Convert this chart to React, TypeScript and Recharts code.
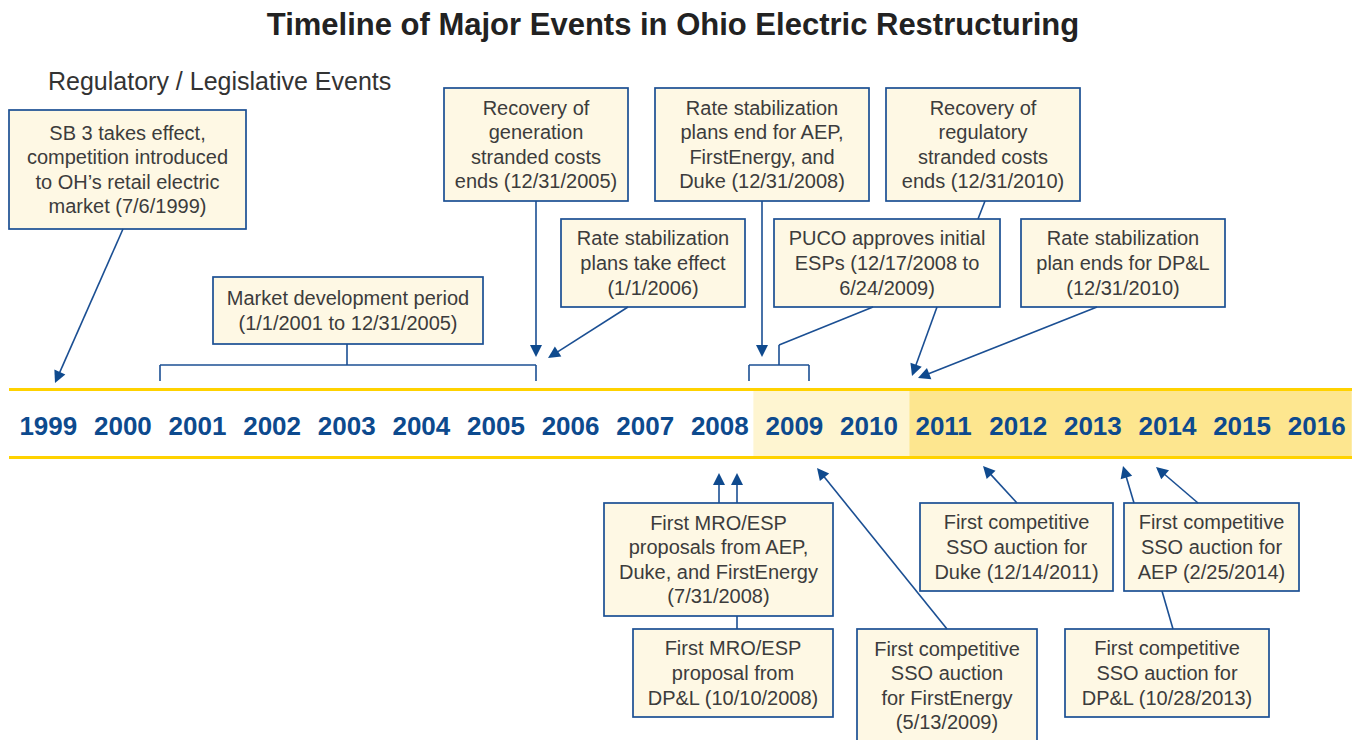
import React from 'react';
import {
  ComposedChart,
  XAxis,
  YAxis,
  Scatter,
  ReferenceArea,
  ReferenceLine,
  ReferenceDot,
} from 'recharts';

// ---------- data ----------
const TITLE = 'Timeline of Major Events in Ohio Electric Restructuring';
const SUBTITLE = 'Regulatory / Legislative Events';

const years = [
  1999, 2000, 2001, 2002, 2003, 2004, 2005, 2006, 2007, 2008, 2009, 2010, 2011,
  2012, 2013, 2014, 2015, 2016,
];

// shaded periods on the timeline (start, end in years)
const lightPeriod = [2008.45, 2010.54];
const darkPeriod = [2010.54, 2016.47];

const eventTexts: string[][] = [
  ['SB 3 takes effect,', 'competition introduced', 'to OH’s retail electric', 'market (7/6/1999)'],
  ['Market development period', '(1/1/2001 to 12/31/2005)'],
  ['Recovery of', 'generation', 'stranded costs', 'ends (12/31/2005)'],
  ['Rate stabilization', 'plans take effect', '(1/1/2006)'],
  ['Rate stabilization', 'plans end for AEP,', 'FirstEnergy, and', 'Duke (12/31/2008)'],
  ['Recovery of', 'regulatory', 'stranded costs', 'ends (12/31/2010)'],
  ['PUCO approves initial', 'ESPs (12/17/2008 to', '6/24/2009)'],
  ['Rate stabilization', 'plan ends for DP&L', '(12/31/2010)'],
  ['First MRO/ESP', 'proposals from AEP,', 'Duke, and FirstEnergy', '(7/31/2008)'],
  ['First MRO/ESP', 'proposal from', 'DP&L (10/10/2008)'],
  ['First competitive', 'SSO auction', 'for FirstEnergy', '(5/13/2009)'],
  ['First competitive', 'SSO auction for', 'Duke (12/14/2011)'],
  ['First competitive', 'SSO auction for', 'AEP (2/25/2014)'],
  ['First competitive', 'SSO auction for', 'DP&L (10/28/2013)'],
];

// ---------- layout (page units) ----------
const boxLayout = [
  { x: 9, y: 110, w: 237, h: 119 },
  { x: 213, y: 277, w: 270, h: 67 },
  { x: 444, y: 88, w: 184, h: 113 },
  { x: 561, y: 219, w: 184, h: 88 },
  { x: 655, y: 88, w: 214, h: 113 },
  { x: 886, y: 88, w: 194, h: 113 },
  { x: 774, y: 219, w: 226, h: 88 },
  { x: 1021, y: 219, w: 204, h: 88 },
  { x: 604, y: 503, w: 229, h: 113 },
  { x: 633, y: 629, w: 200, h: 88 },
  { x: 857, y: 629, w: 180, h: 113 },
  { x: 920, y: 503, w: 193, h: 88 },
  { x: 1124, y: 503, w: 175, h: 88 },
  { x: 1065, y: 629, w: 204, h: 88 },
];

// connectors: [x1, y1, x2, y2, arrowhead]
const connectors: [number, number, number, number, boolean][] = [
  [123, 229, 55, 383, true],
  [536, 201, 536, 357, true],
  [628, 307, 548, 358, true],
  [762, 201, 762, 357, true],
  [937, 307, 912, 376, true],
  [1097, 307, 918, 378, true],
  [719, 503, 719, 473, true],
  [737, 503, 737, 473, true],
  [947, 629, 817, 468, true],
  [1017, 503, 983, 466, true],
  [1198, 503, 1156, 467, true],
  [1134, 503, 1123, 466, true],
  // plain lines
  [347, 344, 347, 365, false],
  [160, 365, 536, 365, false],
  [160, 365, 160, 381, false],
  [536, 365, 536, 381, false],
  [873, 307, 779, 345, false],
  [779, 345, 779, 365, false],
  [749, 365, 809, 365, false],
  [749, 365, 749, 381, false],
  [809, 365, 809, 381, false],
  [985, 201, 978, 219, false],
  [737, 616, 737, 629, false],
  [1173, 629, 1162, 591, false],
];

const yearRow = years.map((year) => ({ year, y: 425 }));
// corners of the page-unit layout frame
const frameCorners = [
  { px: 11, y: 0 },
  { px: 1354, y: 740 },
];

// ---------- styles ----------
const FONT = '"Liberation Sans", Arial, Helvetica, sans-serif';
const BLUE = '#1b4f93';
const GOLD = '#ffd200';

const boxShape = (lines: string[]) => (p: any) => {
  const cx = p.x + p.width / 2;
  const first = p.y + (p.height - (lines.length - 1) * 24.6) / 2 + 7;
  return (
    <g>
      <rect
        x={p.x}
        y={p.y}
        width={p.width}
        height={p.height}
        fill="#fef8e4"
        stroke={BLUE}
        strokeWidth={1.7}
      />
      {lines.map((t, i) => (
        <text
          key={i}
          x={cx}
          y={first + i * 24.6}
          textAnchor="middle"
          fontSize={20}
          fill="#3c3c3c"
          fontFamily={FONT}
        >
          {t}
        </text>
      ))}
    </g>
  );
};

const arrowShape = (head: boolean) => (p: any) => {
  const { x1, y1, x2, y2 } = p;
  const dx = x2 - x1;
  const dy = y2 - y1;
  const len = Math.hypot(dx, dy) || 1;
  const ux = dx / len;
  const uy = dy / len;
  const hl = 12;
  const hw = 6;
  const bx = x2 - ux * hl;
  const by = y2 - uy * hl;
  return (
    <g>
      <line
        x1={x1}
        y1={y1}
        x2={head ? bx + ux * 2 : x2}
        y2={head ? by + uy * 2 : y2}
        stroke={BLUE}
        strokeWidth={1.6}
      />
      {head && (
        <polygon
          points={`${x2},${y2} ${bx - uy * hw},${by + ux * hw} ${bx + uy * hw},${by - ux * hw}`}
          fill="#0f4a8e"
        />
      )}
    </g>
  );
};

const yearShape = (p: any) => (
  <text
    x={p.cx}
    y={p.cy + 9.5}
    textAnchor="middle"
    fontSize={26}
    fontWeight="bold"
    fill="#0d4a8e"
    fontFamily={FONT}
  >
    {p.payload.year}
  </text>
);

const emptyShape = () => <g />;

export default function App() {
  return (
    <div style={{ position: 'absolute', left: 0, top: 0, width: 1359, height: 740, background: '#fff' }}>
      <ComposedChart width={1359} height={740} margin={{ top: 0, right: 5, bottom: 0, left: 11 }}>
        <XAxis
          xAxisId="yr"
          type="number"
          dataKey="year"
          domain={[1998.5, 2016.5]}
          allowDataOverflow
          hide
        />
        <XAxis
          xAxisId="px"
          type="number"
          dataKey="px"
          domain={[11, 1354]}
          allowDataOverflow
          hide
        />
        <YAxis yAxisId="px" type="number" dataKey="y" domain={[0, 740]} reversed allowDataOverflow hide />

        {/* invisible anchor series so the page-unit axis is active */}
        <Scatter
          xAxisId="px"
          yAxisId="px"
          data={frameCorners}
          shape={emptyShape}
          isAnimationActive={false}
        />

        {/* shaded periods */}
        <ReferenceArea
          xAxisId="yr"
          yAxisId="px"
          x1={lightPeriod[0]}
          x2={lightPeriod[1]}
          y1={390}
          y2={457}
          fill="#fef5d1"
          fillOpacity={1}
          stroke="none"
          ifOverflow="visible"
        />
        <ReferenceArea
          xAxisId="yr"
          yAxisId="px"
          x1={darkPeriod[0]}
          x2={darkPeriod[1]}
          y1={390}
          y2={457}
          fill="#fde68f"
          fillOpacity={1}
          stroke="none"
          ifOverflow="visible"
        />
        {/* timeline rails */}
        <ReferenceLine
          xAxisId="px"
          yAxisId="px"
          segment={[{ x: 9, y: 389.5 }, { x: 1352, y: 389.5 }]}
          stroke={GOLD}
          strokeWidth={3}
          ifOverflow="visible"
        />
        <ReferenceLine
          xAxisId="px"
          yAxisId="px"
          segment={[{ x: 9, y: 457.5 }, { x: 1352, y: 457.5 }]}
          stroke={GOLD}
          strokeWidth={3}
          ifOverflow="visible"
        />

        {/* year labels */}
        <Scatter
          xAxisId="yr"
          yAxisId="px"
          data={yearRow}
          shape={yearShape}
          isAnimationActive={false}
        />

        {/* connectors */}
        {connectors.map((c, i) => (
          <ReferenceLine
            key={'c' + i}
            xAxisId="px"
            yAxisId="px"
            segment={[{ x: c[0], y: c[1] }, { x: c[2], y: c[3] }]}
            shape={arrowShape(c[4])}
            ifOverflow="visible"
          />
        ))}

        {/* event boxes */}
        {eventTexts.map((lines, i) => {
          const b = boxLayout[i];
          return (
            <ReferenceArea
              key={'b' + i}
              xAxisId="px"
              yAxisId="px"
              x1={b.x}
              x2={b.x + b.w}
              y1={b.y}
              y2={b.y + b.h}
              shape={boxShape(lines)}
              ifOverflow="visible"
            />
          );
        })}

        {/* titles */}
        <ReferenceDot
          xAxisId="px"
          yAxisId="px"
          x={673}
          y={35}
          ifOverflow="visible"
          shape={(p: any) => (
            <text
              x={p.cx}
              y={p.cy}
              textAnchor="middle"
              fontSize={31}
              fontWeight="bold"
              fill="#222"
              fontFamily={FONT}
            >
              {TITLE}
            </text>
          )}
        />
        <ReferenceDot
          xAxisId="px"
          yAxisId="px"
          x={48}
          y={90}
          ifOverflow="visible"
          shape={(p: any) => (
            <text x={p.cx} y={p.cy} textAnchor="start" fontSize={25} fill="#333" fontFamily={FONT}>
              {SUBTITLE}
            </text>
          )}
        />
      </ComposedChart>
    </div>
  );
}
